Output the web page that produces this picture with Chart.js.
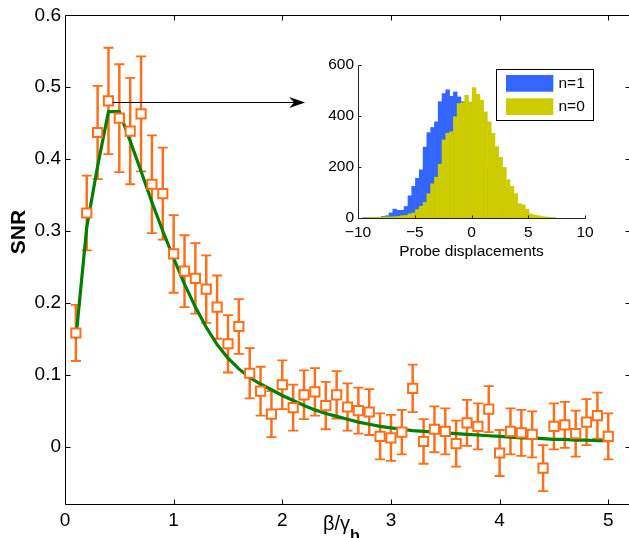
<!DOCTYPE html>
<html><head><meta charset="utf-8">
<script src="https://cdn.jsdelivr.net/npm/chart.js@4"></script>
<style>
html,body{margin:0;padding:0;background:#fff;overflow:hidden;width:629px;height:538px;}
#wrap{position:relative;width:629px;height:538px;overflow:hidden;background:#fff;}
#main{position:absolute;left:0;top:0;}
#inset{position:absolute;left:300px;top:40px;}
</style></head><body>
<div id="wrap">
<canvas id="main" width="640" height="538"></canvas>
<canvas id="inset" width="300" height="230"></canvas>
</div>
<script>
// ---------- main plot data ----------
const betaRatio = [0.1,0.2,0.3,0.4,0.5,0.6,0.7,0.8,0.9,1.0,1.1,1.2,1.3,1.4,1.5,1.6,1.7,1.8,1.9,2.0,2.1,2.2,2.3,2.4,2.5,2.6,2.7,2.8,2.9,3.0,3.1,3.2,3.3,3.4,3.5,3.6,3.7,3.8,3.9,4.0,4.1,4.2,4.3,4.4,4.5,4.6,4.7,4.8,4.9,5.0];
const snr = [0.158,0.325,0.437,0.481,0.457,0.439,0.463,0.365,0.352,0.268,0.244,0.234,0.219,0.194,0.143,0.167,0.102,0.077,0.045,0.086,0.054,0.072,0.076,0.057,0.072,0.055,0.050,0.048,0.014,0.012,0.020,0.081,0.007,0.024,0.021,0.004,0.033,0.028,0.052,-0.009,0.021,0.019,0.017,-0.030,0.028,0.030,0.018,0.034,0.043,0.014];
const snrErr = [0.039,0.052,0.065,0.074,0.075,0.074,0.080,0.068,0.064,0.054,0.050,0.049,0.047,0.044,0.040,0.038,0.035,0.034,0.032,0.034,0.032,0.034,0.033,0.033,0.033,0.033,0.032,0.032,0.032,0.032,0.031,0.033,0.031,0.032,0.032,0.032,0.032,0.032,0.032,0.032,0.032,0.032,0.032,0.032,0.032,0.032,0.032,0.032,0.032,0.032];
const fitSNR = [0.150,0.305,0.390,0.466,0.466,0.425,0.383,0.340,0.300,0.262,0.226,0.194,0.166,0.142,0.123,0.108,0.096,0.087,0.079,0.071,0.064,0.057,0.051,0.046,0.042,0.038,0.034,0.031,0.028,0.026,0.024,0.022,0.021,0.020,0.019,0.018,0.017,0.016,0.015,0.014,0.013,0.012,0.012,0.011,0.010,0.010,0.009,0.009,0.008,0.008];
const xTicks = [0,1,2,3,4,5];
const yTicks = [0,0.1,0.2,0.3,0.4,0.5,0.6];
const arrowStart = [0.44,0.480];
const arrowEnd = [2.21,0.480];

// ---------- inset histogram data ----------
const binCenters = [-9.43,-9.10,-8.77,-8.43,-8.10,-7.77,-7.43,-7.10,-6.77,-6.43,-6.10,-5.77,-5.43,-5.10,-4.77,-4.43,-4.10,-3.77,-3.43,-3.10,-2.77,-2.43,-2.10,-1.77,-1.43,-1.10,-0.77,-0.43,-0.10,0.23,0.57,0.90,1.23,1.57,1.90,2.23,2.57,2.90,3.23,3.57,3.90,4.23,4.57,4.90,5.23,5.57,5.90,6.23,6.57,6.90,7.23];
const countsN1 = [1,1,2,2,3,6,9,20,35,30,30,45,87,124,156,189,278,335,355,377,456,488,503,477,494,475,456,420,375,330,280,240,195,150,120,90,55,45,30,15,10,7,4,2,1,0,0,0,0,0,0];
const countsN0 = [0,0,2,2,3,3,4,4,5,6,9,10,16,20,33,46,61,95,134,160,211,306,332,338,397,449,452,481,455,511,485,462,416,377,332,280,238,198,150,124,95,56,52,35,16,12,9,6,4,2,0];
const insetXTicks = [-10,-5,0,5,10];
const insetYTicks = [0,200,400,600];
const legendLabels = ['n=1','n=0'];

const ORANGE = '#FF6E19';
const GREEN = '#007F00';
const BLUE = '#3366FF';
const YELLOW = '#CCCC00';
const FONT = "'Liberation Sans', Arial, Helvetica, sans-serif";
Chart.defaults.font.family = FONT;
Chart.defaults.color = '#000';

const pts = (ys) => betaRatio.map((b,i)=>({x:b,y:ys[i]}));

const mainDecor = {
  id:'mainDecor',
  afterDraw(chart){
    const {ctx, chartArea:{left,right,top,bottom}, scales:{x,y}} = chart;
    ctx.save();
    ctx.strokeStyle='#000'; ctx.lineWidth=1;
    const L=Math.round(left)+0.5, R=Math.round(right)+0.5, T=Math.round(top)+0.5, B=Math.round(bottom)+0.5;
    ctx.beginPath();
    ctx.moveTo(L,T); ctx.lineTo(R,T); ctx.lineTo(R,B); ctx.lineTo(L,B); ctx.closePath();
    xTicks.forEach(v=>{const p=Math.round(x.getPixelForValue(v))+0.5; ctx.moveTo(p,B); ctx.lineTo(p,B-5); ctx.moveTo(p,T); ctx.lineTo(p,T+5);});
    yTicks.forEach(v=>{const p=Math.round(y.getPixelForValue(v))+0.5; ctx.moveTo(L,p); ctx.lineTo(L+5,p); ctx.moveTo(R,p); ctx.lineTo(R-5,p);});
    ctx.stroke();
    // arrow
    const x1=x.getPixelForValue(arrowStart[0]), y1=Math.round(y.getPixelForValue(arrowStart[1]))+0.5;
    const x2=x.getPixelForValue(arrowEnd[0]), y2=y1;
    ctx.beginPath(); ctx.moveTo(x1,y1); ctx.lineTo(x2-8,y2); ctx.stroke();
    ctx.fillStyle='#000';
    ctx.beginPath(); ctx.moveTo(x2,y2); ctx.lineTo(x2-16,y2-5.5); ctx.lineTo(x2-11,y2); ctx.lineTo(x2-16,y2+5.5); ctx.closePath(); ctx.fill();
    // axis titles
    ctx.fillStyle='#000';
    ctx.save();
    ctx.translate(19,232); ctx.rotate(-Math.PI/2);
    ctx.font = "bold 21px "+FONT; ctx.textAlign='center'; ctx.textBaseline='middle';
    ctx.fillText('SNR',0,0);
    ctx.restore();
    ctx.textAlign='left'; ctx.textBaseline='alphabetic';
    ctx.font = "20px "+FONT;
    ctx.fillText('β/γ',323,530);
    const w = ctx.measureText('β/γ').width;
    ctx.font = "bold 16px "+FONT;
    ctx.fillText('b',323+w,541);
    ctx.restore();
  }
};

new Chart(document.getElementById('main'), {
  type:'scatter',
  data:{datasets:[
    {type:'scatter', label:'SNR', data:pts(snr), pointStyle:'rect', pointRadius:6.5, pointBorderWidth:2, borderColor:ORANGE, backgroundColor:'#fff', order:0},
    {type:'line', label:'fit', data:pts(fitSNR), borderColor:GREEN, borderWidth:3.2, pointRadius:0, tension:0, fill:false, order:1},
    {type:'bar', label:'err', data:betaRatio.map((b,i)=>({x:b,y:[snr[i]-snrErr[i],snr[i]+snrErr[i]]})), backgroundColor:ORANGE, borderWidth:0, barThickness:1.8, order:2},
    {type:'scatter', label:'caps', data:betaRatio.flatMap((b,i)=>[{x:b,y:snr[i]+snrErr[i]},{x:b,y:snr[i]-snrErr[i]}]), pointStyle:'line', pointRadius:5, pointBorderWidth:1.8, borderColor:ORANGE, order:2}
  ]},
  options:{
    responsive:false, animation:false, events:[], devicePixelRatio:1,
    layout:{padding:{top:13,right:10,left:0,bottom:0}},
    plugins:{legend:{display:false}, tooltip:{enabled:false}},
    scales:{
      x:{type:'linear', min:0, max:5.2, offset:false, grid:{display:false, drawTicks:false}, border:{display:false},
         afterBuildTicks:(s)=>{s.ticks = xTicks.map(v=>({value:v}));},
         afterFit:(s)=>{s.height=34;},
         ticks:{font:{size:19}, padding:5, maxRotation:0, callback:(v)=>String(v)}},
      y:{type:'linear', min:-0.08, max:0.6, grid:{display:false, drawTicks:false}, border:{display:false},
         afterBuildTicks:(s)=>{s.ticks = yTicks.map(v=>({value:v}));},
         afterFit:(s)=>{s.width=65;},
         ticks:{font:{size:19}, padding:4, callback:(v)=>String(v)}}
    }
  },
  plugins:[mainDecor]
});

// ---------- inset ----------
const insetDecor = {
  id:'insetDecor',
  afterDraw(chart){
    const {ctx, chartArea:{left,right,top,bottom}, scales:{x,y}} = chart;
    ctx.save();
    ctx.strokeStyle='#222'; ctx.lineWidth=1;
    const L=Math.round(left)+0.5, R=Math.round(right)+0.5, T=Math.round(top)+0.5, B=Math.round(bottom)+0.5;
    ctx.beginPath();
    ctx.moveTo(L,T); ctx.lineTo(L,B); ctx.lineTo(R,B);
    insetXTicks.forEach(v=>{const p=Math.round(x.getPixelForValue(v))+0.5; ctx.moveTo(p,B); ctx.lineTo(p,B-3);});
    insetYTicks.forEach(v=>{const p=Math.round(y.getPixelForValue(v))+0.5; ctx.moveTo(L,p); ctx.lineTo(L+3,p);});
    ctx.stroke();
    ctx.fillStyle='#000';
    ctx.font="15.5px "+FONT; ctx.textAlign='center'; ctx.textBaseline='middle';
    ctx.fillText('Probe displacements',(left+right)/2,212);
    // legend
    const bx=196.5, by=29.5, bw=97, bh=51;
    ctx.fillStyle='#fff'; ctx.fillRect(bx,by,bw,bh);
    ctx.strokeStyle='#000'; ctx.strokeRect(bx,by,bw,bh);
    const cols=[chart.data.datasets[1].backgroundColor, chart.data.datasets[0].backgroundColor];
    const rows=[35,58.3];
    legendLabels.forEach((lab,i)=>{
      ctx.fillStyle=cols[i]; ctx.fillRect(206,rows[i],47.3,16.7);
      ctx.fillStyle='#000'; ctx.textAlign='left'; ctx.textBaseline='middle';
      ctx.fillText(lab,258.5,rows[i]+8.5);
    });
    ctx.restore();
  }
};

new Chart(document.getElementById('inset'), {
  type:'bar',
  data:{datasets:[
    {label:legendLabels[1], data:binCenters.map((c,i)=>({x:c,y:countsN0[i]})), backgroundColor:YELLOW, borderWidth:0, barPercentage:1, categoryPercentage:1, grouped:false, order:0},
    {label:legendLabels[0], data:binCenters.map((c,i)=>({x:c,y:countsN1[i]})), backgroundColor:BLUE, borderWidth:0, barPercentage:1, categoryPercentage:1, grouped:false, order:1}
  ]},
  options:{
    responsive:false, animation:false, events:[], devicePixelRatio:1,
    layout:{padding:{top:25,right:15,left:0,bottom:0}},
    plugins:{legend:{display:false}, tooltip:{enabled:false}},
    scales:{
      x:{type:'linear', min:-10, max:10, offset:false, grid:{display:false, drawTicks:false}, border:{display:false},
         afterBuildTicks:(s)=>{s.ticks = insetXTicks.map(v=>({value:v}));},
         afterFit:(s)=>{s.height=52;},
         ticks:{font:{size:15.5}, padding:5, maxRotation:0, callback:(v)=>(v<0?'\u2212'+Math.abs(v):String(v))}},
      y:{type:'linear', min:0, max:600, grid:{display:false, drawTicks:false}, border:{display:false},
         afterBuildTicks:(s)=>{s.ticks = insetYTicks.map(v=>({value:v}));},
         afterFit:(s)=>{s.width=58;},
         ticks:{font:{size:15.5}, padding:4, callback:(v)=>String(v)}}
    }
  },
  plugins:[insetDecor]
});
</script>
</body></html>
